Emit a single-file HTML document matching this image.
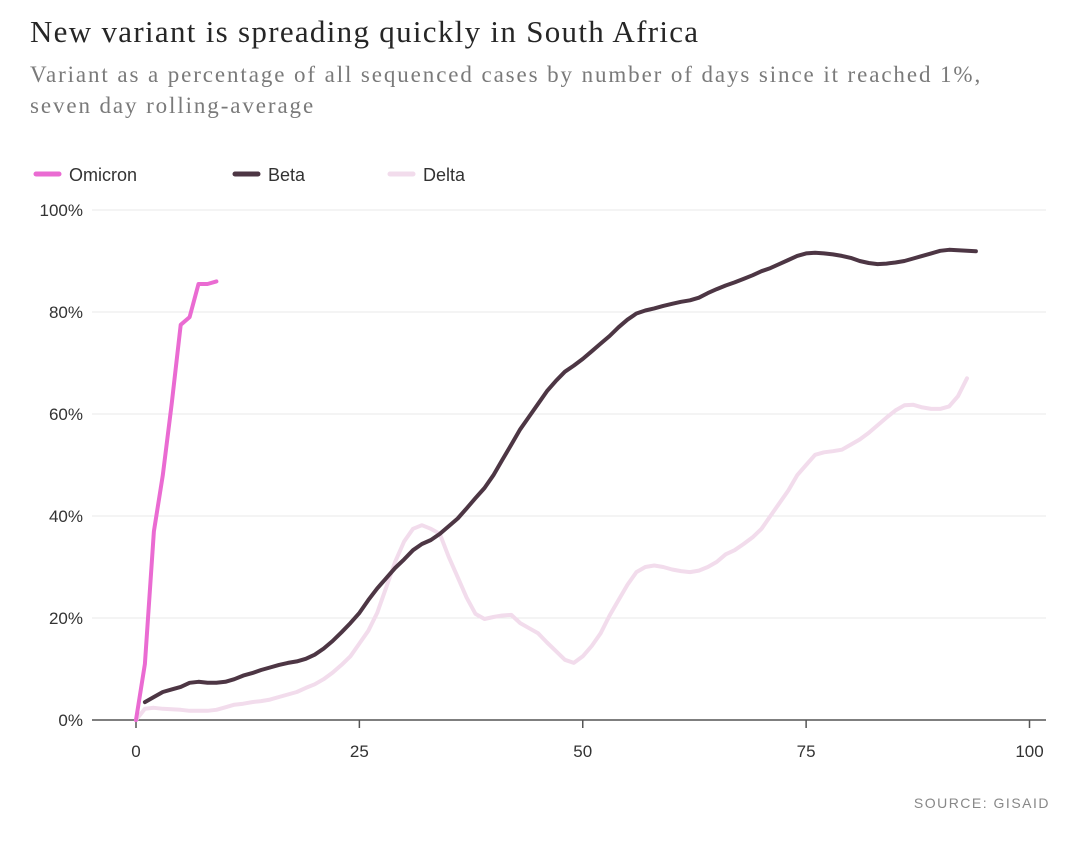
<!DOCTYPE html>
<html><head><meta charset="utf-8"><style>
body{margin:0;background:#fff;width:1080px;height:841px;overflow:hidden;font-family:"Liberation Sans",sans-serif}
#title{position:absolute;left:30px;top:14px;font:31px "Liberation Serif",serif;letter-spacing:1.3px;color:#262626;margin:0;font-weight:normal;white-space:nowrap}
#sub{position:absolute;left:30px;top:59px;font:23px/31px "Liberation Serif",serif;letter-spacing:1.9px;color:#7a7a7a;width:1040px;white-space:nowrap}
svg{position:absolute;left:0;top:0}
</style></head><body>
<h1 id="title">New variant is spreading quickly in South Africa</h1>
<div id="sub">Variant as a percentage of all sequenced cases by number of days since it reached 1%,<br>seven day rolling-average</div>
<svg id="chart" width="1080" height="841"></svg>
<script>
const xTicks=[0,25,50,75,100];
const yTicks=[0,20,40,60,80,100];
const omicron=[0,11,37,48,62,77.5,79,85.5,85.5,86];
const omicronStart=0;
const beta=[3.5,4.5,5.5,6,6.5,7.3,7.5,7.3,7.3,7.5,8,8.7,9.2,9.8,10.3,10.8,11.2,11.5,12,12.8,14,15.5,17.2,19,21,23.5,25.8,27.8,29.8,31.5,33.3,34.5,35.3,36.5,38,39.5,41.5,43.5,45.5,48,51,54,57,59.5,62,64.5,66.5,68.3,69.5,70.8,72.3,73.8,75.3,77,78.5,79.7,80.3,80.7,81.2,81.6,82,82.3,82.8,83.7,84.5,85.2,85.8,86.5,87.2,88,88.6,89.4,90.2,91,91.5,91.6,91.5,91.3,91,90.6,90,89.6,89.4,89.5,89.7,90,90.5,91,91.5,92,92.2,92.1,92,91.9];
const betaStart=1;
const delta=[0,2.2,2.4,2.2,2.1,2,1.8,1.8,1.8,2,2.5,3,3.2,3.5,3.7,4,4.5,5,5.5,6.3,7,8,9.3,10.8,12.5,15,17.5,21,26,31,35,37.5,38.2,37.5,36.5,32,28,24,20.8,19.8,20.2,20.5,20.6,19,18,17,15.2,13.5,11.8,11.2,12.5,14.5,17,20.5,23.5,26.5,29,30,30.3,30,29.5,29.2,29,29.3,30,31,32.5,33.3,34.5,35.8,37.5,40,42.5,45,48,50,52,52.5,52.7,53,54,55,56.3,57.8,59.3,60.7,61.7,61.8,61.3,61,61,61.5,63.5,67];
const deltaStart=0;
const legendLabels=["Omicron","Beta","Delta"];
const colors=["#ea6bd2","#4d3644","#f2dcec"];
const svg=document.getElementById('chart');const NS='http://www.w3.org/2000/svg';
const X=v=>136+v*8.935, Y=v=>720-v*5.1;
function mk(t,a){const e=document.createElementNS(NS,t);for(const k in a)e.setAttribute(k,a[k]);svg.appendChild(e);return e;}
yTicks.forEach(t=>{
 if(t>0){const g=mk('line',{x1:92,x2:1046,y1:Y(t),y2:Y(t),stroke:'#e8e8e8','stroke-width':1});
 
 }
 const l=mk('text',{x:83,y:Y(t)+6,'text-anchor':'end','font-size':17,fill:'#333','font-family':'Liberation Sans Narrow, Liberation Sans, sans-serif'});l.textContent=t+'%';
 
 
});
const ax=mk('line',{x1:92,x2:1046,y1:720,y2:720,stroke:'#555','stroke-width':1.5});


xTicks.forEach(t=>{
 const tk=mk('line',{x1:X(t),x2:X(t),y1:720,y2:728,stroke:'#555','stroke-width':1.5});
 
 
 const l=mk('text',{x:X(t),y:757,'text-anchor':'middle','font-size':17,fill:'#333','font-family':'Liberation Sans Narrow, Liberation Sans, sans-serif'});l.textContent=t;
 
 
});
function line(arr,start,col,name){
 const d=arr.map((v,i)=>(i?'L':'M')+X(start+i).toFixed(1)+','+Y(v).toFixed(1)).join('');
 const p=mk('path',{d:d,fill:'none',stroke:col,'stroke-width':4,'stroke-linejoin':'round','stroke-linecap':'round'});
 
 
}
line(delta,deltaStart,colors[2],'delta');
line(beta,betaStart,colors[1],'beta');
line(omicron,omicronStart,colors[0],'omicron');
const lx=[36,235,390];
legendLabels.forEach((n,i)=>{
 const s=mk('line',{x1:lx[i],x2:lx[i]+23,y1:174,y2:174,stroke:colors[i],'stroke-width':5,'stroke-linecap':'round'});
 
 
 const t=mk('text',{x:lx[i]+33,y:181,'font-size':18,fill:'#333','font-family':'Liberation Sans Narrow, Liberation Sans, sans-serif'});t.textContent=n;
 
 
});
const src=mk('text',{x:1050,y:808,'text-anchor':'end','font-size':14,fill:'#888','letter-spacing':1.5});src.textContent='SOURCE: GISAID';


</script>
</body></html>
